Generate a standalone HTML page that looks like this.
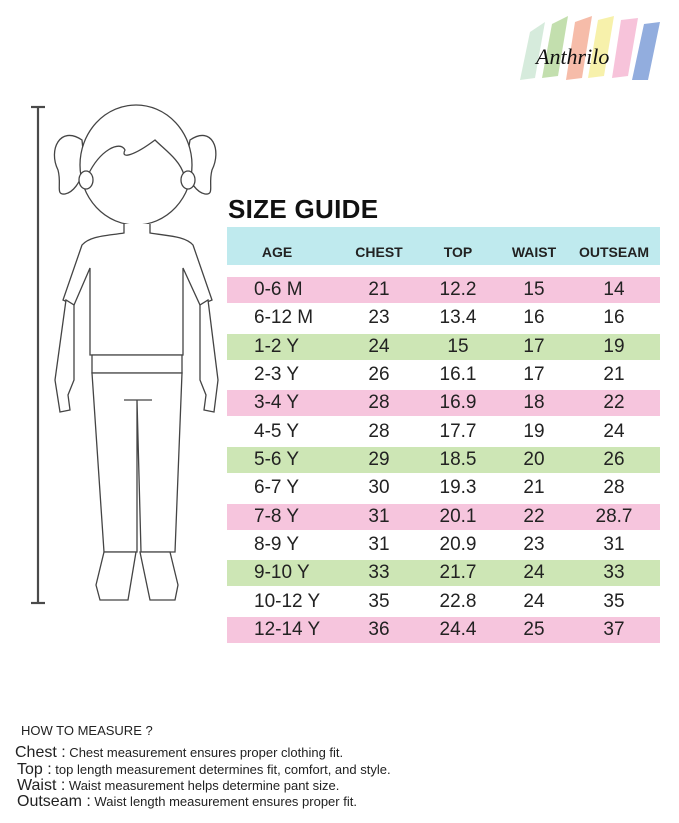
<!DOCTYPE html>
<html><head><meta charset="utf-8"><style>
body{margin:0;background:#fff;}
#w{position:relative;width:679px;height:823px;overflow:hidden;font-family:"Liberation Sans",sans-serif;color:#222;}
.t{position:absolute;white-space:nowrap;}
.row{position:absolute;left:227px;width:433px;height:26px;}
.c{position:absolute;font-size:19px;text-align:center;width:80px;line-height:26px;}
.h{position:absolute;font-size:14px;font-weight:bold;text-align:center;width:100px;top:244px;}
</style></head><body><div id="w">
<svg width="679" height="823" style="position:absolute;left:0;top:0">
<g fill-opacity="0.85">
<polygon points="530,32 545,22 535,78 520,80" fill="#cfe8d6"/>
<polygon points="552,24 568,16 558,76 542,78" fill="#b8d9a0"/>
<polygon points="575,22 592,16 582,78 566,80" fill="#f4b09a"/>
<polygon points="598,20 614,16 604,76 588,78" fill="#f6ef9c"/>
<polygon points="621,20 638,18 628,76 612,78" fill="#f6b8d4"/>
<polygon points="644,24 660,22 648,80 632,80" fill="#7f9fd8"/>
</g>
<text x="536" y="64" font-family="Liberation Serif,serif" font-style="italic" font-size="22" fill="#111">Anthrilo</text>
<g stroke="#4a4a4a" stroke-width="2.2" fill="none">
<line x1="38" y1="107" x2="38" y2="603"/><line x1="31" y1="107" x2="45" y2="107"/><line x1="31" y1="603" x2="45" y2="603"/>
</g>
<g stroke="#444" stroke-width="1.3" fill="#fff">
<path d="M82,140 C60,125 48,150 58,170 C62,185 55,195 65,194 C75,192 80,180 85,170Z"/>
<path d="M190,140 C212,125 222,150 212,170 C208,185 215,195 205,194 C195,192 190,180 185,170Z"/>
<ellipse cx="136" cy="165" rx="56" ry="60"/>
<path d="M88,175 C100,150 120,140 125,150 C120,160 135,155 155,140 C165,150 180,160 184,175" fill="none"/>
<ellipse cx="86" cy="180" rx="7" ry="9"/><ellipse cx="188" cy="180" rx="7" ry="9"/>
<path d="M124,224 L124,233 C105,236 90,236 82,245 L63,300 L74,305 L90,268 L90,355 L183,355 L183,268 L200,305 L212,300 L193,245 C185,236 168,236 150,233 L150,224"/>
<path d="M66,300 L55,380 L60,412 L70,410 L68,395 L74,380 L74,305Z"/>
<path d="M208,300 L218,380 L214,412 L204,410 L206,395 L200,380 L200,305Z"/>
<path d="M92,355 L182,355 L182,373 L92,373Z"/>
<path d="M92,373 L104,552 L137,552 L137,400 L141,552 L175,552 L182,373Z"/>
<path d="M104,552 L96,585 L100,600 L128,600 L136,552Z"/>
<path d="M140,552 L150,600 L175,600 L178,585 L170,552Z"/>
<line x1="124" y1="400" x2="152" y2="400"/>
</g>
</svg>
<div class="t" style="left:228px;top:194px;font-size:26px;font-weight:bold;color:#111;letter-spacing:0.3px;">SIZE GUIDE</div>
<div style="position:absolute;left:227px;top:227px;width:433px;height:38px;background:#bfeaee;"></div>
<div class="h" style="left:227px">AGE</div>
<div class="h" style="left:329px">CHEST</div>
<div class="h" style="left:408px">TOP</div>
<div class="h" style="left:484px">WAIST</div>
<div class="h" style="left:564px">OUTSEAM</div>
<div class="row" style="top:277px;background:#f6c5dd"></div>
<div class="row" style="top:334px;background:#cde6b5"></div>
<div class="row" style="top:390px;background:#f6c5dd"></div>
<div class="row" style="top:447px;background:#cde6b5"></div>
<div class="row" style="top:504px;background:#f6c5dd"></div>
<div class="row" style="top:560px;background:#cde6b5"></div>
<div class="row" style="top:617px;background:#f6c5dd"></div>
<div id="rows"></div>
<script>
var d=[["0-6 M",21,"12.2",15,14],["6-12 M",23,"13.4",16,16],["1-2 Y",24,15,17,19],["2-3 Y",26,"16.1",17,21],["3-4 Y",28,"16.9",18,22],["4-5 Y",28,"17.7",19,24],["5-6 Y",29,"18.5",20,26],["6-7 Y",30,"19.3",21,28],["7-8 Y",31,"20.1",22,"28.7"],["8-9 Y",31,"20.9",23,31],["9-10 Y",33,"21.7",24,33],["10-12 Y",35,"22.8",24,35],["12-14 Y",36,"24.4",25,37]];
var cx=[null,379,458,534,614],h="";
d.forEach(function(r,i){var y=277+i*28.33;
h+='<div class="c" style="left:254px;text-align:left;width:100px;top:'+y+'px">'+r[0]+'</div>';
for(var j=1;j<5;j++)h+='<div class="c" style="left:'+(cx[j]-40)+'px;top:'+y+'px">'+r[j]+'</div>';});
document.getElementById('rows').innerHTML=h;
</script>
<div class="t" style="left:21px;top:723px;font-size:13px;">HOW TO MEASURE ?</div>
<div class="t" style="left:15px;top:744px;font-size:13px;"><span style="font-size:16px">Chest :</span> Chest measurement ensures proper clothing fit.</div>
<div class="t" style="left:17px;top:761px;font-size:13px;"><span style="font-size:16px">Top :</span> top length measurement determines fit, comfort, and style.</div>
<div class="t" style="left:17px;top:777px;font-size:13px;"><span style="font-size:16px">Waist :</span> Waist measurement helps determine pant size.</div>
<div class="t" style="left:17px;top:793px;font-size:13px;"><span style="font-size:16px">Outseam :</span> Waist length measurement ensures proper fit.</div>
</div></body></html>
